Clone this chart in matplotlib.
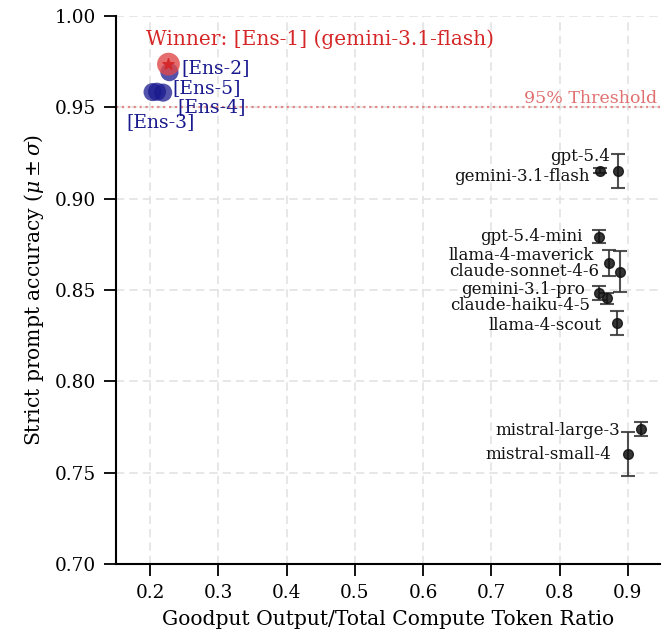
import matplotlib
matplotlib.use("Agg")
import matplotlib.pyplot as plt
import seaborn as sns

# ---- data ----
models = ["gpt-5.4", "gemini-3.1-flash", "gpt-5.4-mini", "llama-4-maverick",
          "claude-sonnet-4-6", "gemini-3.1-pro", "claude-haiku-4-5",
          "llama-4-scout", "mistral-large-3", "mistral-small-4"]
model_ratio = [0.886, 0.859, 0.857, 0.8725, 0.8886, 0.857, 0.869, 0.8836, 0.919, 0.9007]
model_acc = [0.9153, 0.9153, 0.8792, 0.8646, 0.8600, 0.8482, 0.8455, 0.8321, 0.7738, 0.7603]
model_std = [0.0093, 0.0015, 0.0036, 0.0071, 0.0112, 0.0038, 0.0030, 0.0066, 0.0040, 0.0122]

ensembles = ["[Ens-1]", "[Ens-2]", "[Ens-3]", "[Ens-4]", "[Ens-5]"]
ens_ratio = [0.2268, 0.2282, 0.2035, 0.219, 0.210]
ens_acc = [0.9736, 0.9692, 0.9583, 0.9580, 0.9585]
winner_label = "Winner: [Ens-1] (gemini-3.1-flash)"
threshold = 0.95

# label offsets (pixels)
model_off = [(-8, 14), (-10, -6), (-16, 0), (-15, 8), (-21, 0), (-14, 4),
             (-17, -7), (-15, -3), (-21, -1), (-17, -1)]
ens_off = [None, (12, 4), (-26, -30), (14, -14), (15, 4)]

sns.set_theme(style="ticks")
plt.rcParams["font.family"] = ["DejaVu Serif"]
plt.rcParams["mathtext.fontset"] = "dejavuserif"

fig = plt.figure(figsize=(6.67, 6.36), dpi=100)
ax = fig.add_axes([0.174, 0.1132, 0.8155, 0.8618])

ax.grid(True, linestyle=(0, (5, 3)), color="#e3e3e3", linewidth=1.2)
ax.set_axisbelow(True)

ax.axhline(threshold, color="#e07070", linestyle=":", linewidth=1.6, alpha=0.8, zorder=1)
ax.text(0.943, threshold + 0.0004, "95% Threshold", color="#e07070", fontsize=12.5,
        ha="right", va="bottom")

ax.errorbar(model_ratio, model_acc, yerr=model_std, fmt="o", color="#111111",
            ecolor="#333333", elinewidth=1.5, capsize=5, capthick=1.5,
            markersize=7, alpha=0.85, zorder=3)
for name, x, y, off in zip(models, model_ratio, model_acc, model_off):
    ax.annotate(name, (x, y), xytext=off, textcoords="offset pixels",
                ha="right", va="center", fontsize=12, color="#111111")

for i, (name, x, y) in enumerate(zip(ensembles, ens_ratio, ens_acc)):
    if i == 0:
        continue
    ax.scatter([x], [y], s=170, color="#1a1a8f", alpha=0.75, edgecolors="none", zorder=4)
for i, (name, x, y) in enumerate(zip(ensembles, ens_ratio, ens_acc)):
    if i == 0:
        ax.scatter([x], [y], s=270, color="#e04848", alpha=0.8, edgecolors="none", zorder=5)
        ax.scatter([x], [y], s=70, marker="*", color="#d62728", alpha=0.9, zorder=6)
    else:
        ax.annotate(name, (x, y), xytext=ens_off[i], textcoords="offset pixels",
                    ha="left", va="center", fontsize=13.5, color="#1a1a8f", zorder=6)

ax.text(0.194, 0.987, winner_label, color="#d62728", fontsize=14.5, ha="left",
        va="center", zorder=7)

ax.set_xlim(0.15, 0.947)
ax.set_ylim(0.70, 1.00)
ax.set_xticks([0.2, 0.3, 0.4, 0.5, 0.6, 0.7, 0.8, 0.9])
ax.set_yticks([0.70, 0.75, 0.80, 0.85, 0.90, 0.95, 1.00])
ax.tick_params(labelsize=13.3, length=8.5, width=1.3, pad=6, color="black", labelcolor="black")
for s in ["left", "bottom"]:
    ax.spines[s].set_color("black")
    ax.spines[s].set_linewidth(1.5)
sns.despine(ax=ax)
ax.set_xlabel("Goodput Output/Total Compute Token Ratio", fontsize=14.6, color="black", labelpad=6)
ax.set_ylabel(r"Strict prompt accuracy ($\mu \pm \sigma$)", fontsize=14.6, color="black", labelpad=6)

fig.savefig("out.png", dpi=100)
